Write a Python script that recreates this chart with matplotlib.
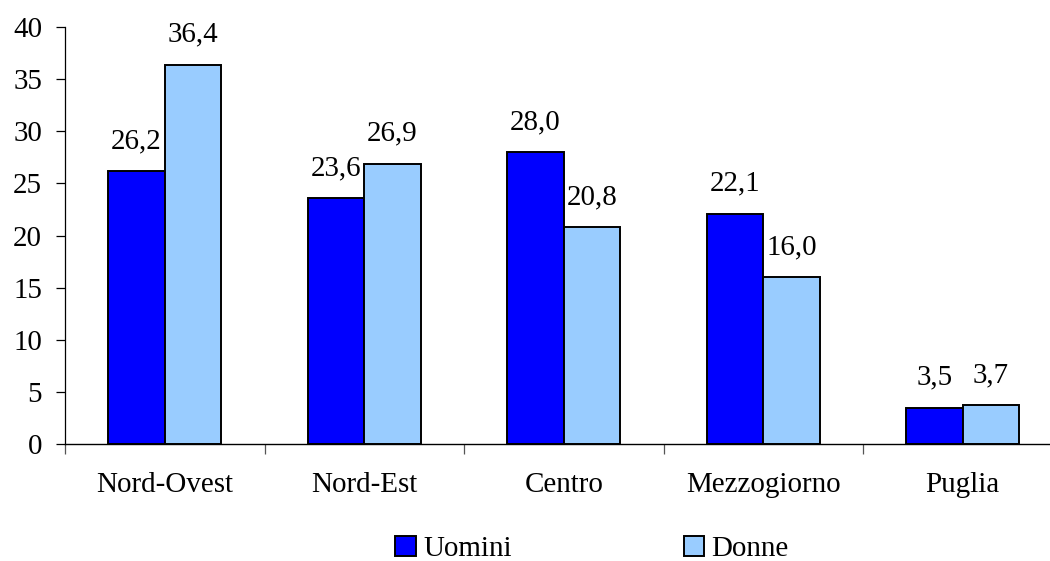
import matplotlib
matplotlib.use("Agg")
import matplotlib.pyplot as plt
import numpy as np

categories = ["Nord-Ovest", "Nord-Est", "Centro", "Mezzogiorno", "Puglia"]
uomini = [26.2, 23.6, 28.0, 22.1, 3.5]
donne = [36.4, 26.9, 20.8, 16.0, 3.7]
series_names = ["Uomini", "Donne"]
yticks = [0, 5, 10, 15, 20, 25, 30, 35, 40]

plt.rcParams['font.family'] = ['Liberation Serif', 'DejaVu Serif']
FS = 20.9

fig = plt.figure(figsize=(10.5, 5.61), dpi=100)
ax = fig.add_axes([65/1050, (561-444)/561, 5*199.5/1050, (444-27)/561])

x = np.arange(len(categories))
w = 0.283
b1 = ax.bar(x - w/2, uomini, w, color='#0000FF', edgecolor='black', linewidth=1.4, label=series_names[0])
b2 = ax.bar(x + w/2, donne, w, color='#99CCFF', edgecolor='black', linewidth=1.4, label=series_names[1])

def fmt(v):
    return f"{v:.1f}".replace('.', ',')

for bars, vals in ((b1, uomini), (b2, donne)):
    for r, v in zip(bars, vals):
        ax.annotate(fmt(v), (r.get_x() + r.get_width()/2, v), xytext=(0, 16.5),
                    textcoords='offset points', ha='center', va='baseline', fontsize=FS)

ax.set_xlim(-0.5, 4.5)
ax.set_ylim(0, 40)
ax.set_yticks(yticks)
ax.set_yticklabels([str(t) for t in yticks], fontsize=FS)
ax.tick_params(axis='y', direction='out', length=6.5, width=0.9, pad=10)

ax.set_xticks(np.arange(-0.5, 4.6, 1.0))
ax.set_xticklabels([])
ax.tick_params(axis='x', which='major', direction='out', length=7, width=0.9, color='#555555')
ax.set_xticks(x, minor=True)
ax.set_xticklabels(categories, minor=True, fontsize=FS)
ax.tick_params(axis='x', which='minor', length=0, pad=20)

for s in ('top', 'right'):
    ax.spines[s].set_visible(False)
ax.spines['left'].set_linewidth(0.9)
ax.spines['bottom'].set_linewidth(1.0)

fig.legend(handles=[b1, b2], labels=series_names, loc='center', bbox_to_anchor=(0.564, 0.022),
           ncol=2, frameon=False, fontsize=FS, handlelength=0.69, handleheight=0.69,
           handletextpad=0.28, columnspacing=5.9, borderpad=0)

fig.savefig("out.png", dpi=100)
